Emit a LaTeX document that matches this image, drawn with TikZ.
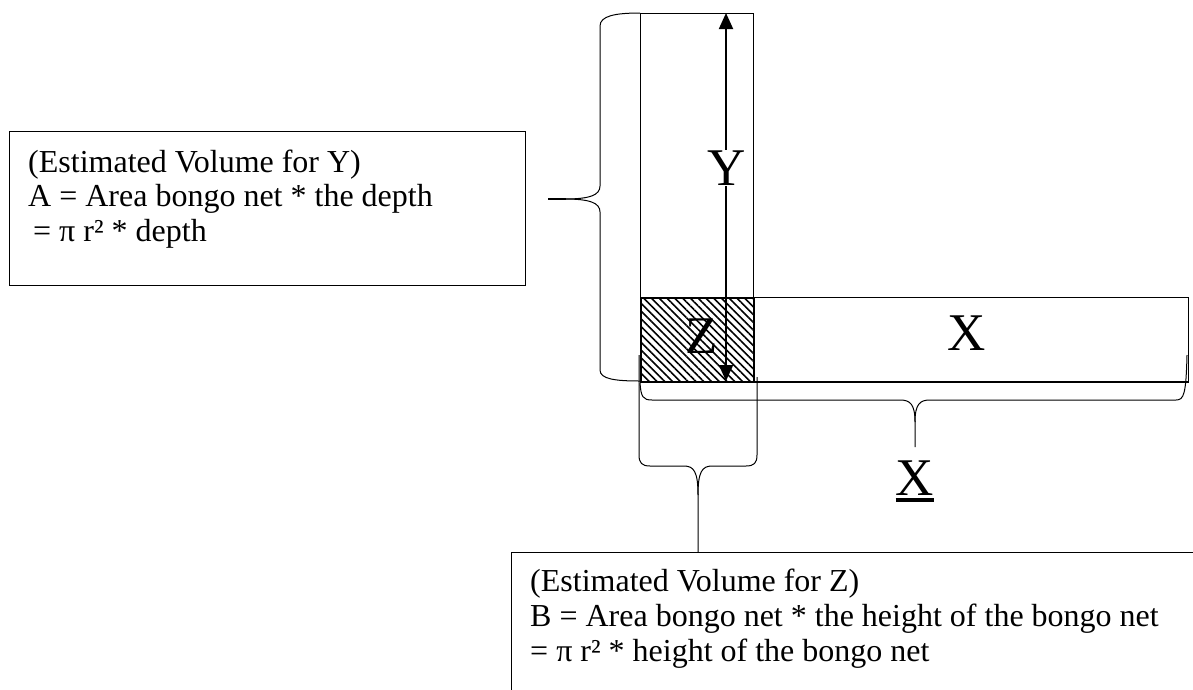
\documentclass[tikz,border=0pt]{standalone}
\usepackage{fontspec}
\setmainfont{Liberation Serif}
\usetikzlibrary{arrows.meta,patterns.meta}
\begin{document}
\begin{tikzpicture}[x=1pt,y=-1pt,
  shapebox/.style={draw,line width=1.4pt,anchor=north west,inner sep=0pt},
  brace/.style={draw,line width=1pt},
  txt/.style={anchor=base west,inner sep=0pt,font=\fontsize{32}{35}\selectfont},
  big/.style={inner sep=0pt,font=\fontsize{53}{60}\selectfont},
  tbox/.style={draw,line width=1.2pt,anchor=north west,inner sep=0pt},
  dblarrow/.style={line width=1.9pt,{Triangle[length=16pt,width=14pt]}-{Triangle[length=16pt,width=14pt]}}]
\useasboundingbox (0,0) rectangle (1193,689);
\begin{scope}
\clip (0,0) rectangle (1193,689);
% text boxes
\node[tbox,minimum width=516pt,minimum height=154pt] (boxY) at (9,131) {};
\node[tbox,minimum width=800pt,minimum height=200pt] (boxZ) at (511,552) {};
\node[txt] (ty1) at (28,172) {(Estimated Volume for Y)};
\node[txt] (ty2) at (28,206) {A = Area bongo net * the depth};
\node[txt] (ty3) at (33,241) {= π r² * depth};
\node[txt] (tz1) at (530,591) {(Estimated Volume for Z)};
\node[txt] (tz2) at (530,626) {B = Area bongo net * the height of the bongo net};
\node[txt] (tz3) at (530,661) {= π r² * height of the bongo net};
% shapes
\node[shapebox,pattern={Lines[angle=-45,distance=5.5pt,line width=1.6pt]},minimum width=113pt,minimum height=84pt] (zr) at (640,297) {};
\node[shapebox,minimum width=113pt,minimum height=368pt] (col) at (640,13) {};
\node[shapebox,minimum width=548pt,minimum height=84pt] (xr) at (640,297) {};
\draw[line width=2pt] (xr.south west) -- (xr.south east);
% arrow
\coordinate (atop) at (726,13);
\coordinate (abot) at (726,381);
\draw[dblarrow] (abot) -- (atop);
% labels
\node[big,fill=white,inner sep=1pt] (ylab) at (727,168) {Y};
\node[big] (zlab) at (702,336) {Z};
\node[big] (xlab) at (967,333) {X};
\node[big,anchor=base] (xu) at (915,495) {X};
\draw[line width=3.5pt] ([yshift=-5pt]xu.base west) -- ([yshift=-5pt]xu.base east);
% left brace
\draw[brace] (640,13) .. controls (615,13) and (600,16) .. (600,26) -- (600,186)
  .. controls (600,195) and (590,199) .. (565,199) -- (548,199);
\draw[brace] (565,199) .. controls (590,199) and (600,203) .. (600,212) -- (600,370)
  .. controls (600,379) and (615,381) .. (640,381);
\draw[line width=2pt] (548,199) -- (566,199);
% X brace
\draw[brace] (640,383) .. controls (641,397) and (643,400) .. (652,400) -- (900,400)
  .. controls (910,400) and (915,404) .. (915,422) -- (915,447);
\draw[brace] (915,422) .. controls (915,404) and (920,400) .. (930,400) -- (1176,400)
  .. controls (1184,400) and (1186,394) .. (1187,355);
% Z brace
\draw[brace] (639,355) -- (639,455) .. controls (639,463) and (642,466) .. (650,466) -- (684,466)
  .. controls (694,466) and (698,472) .. (698,495) -- (698,552);
\draw[brace] (698,495) .. controls (698,472) and (702,466) .. (712,466) -- (746,466)
  .. controls (754,466) and (757,463) .. (757,455) -- (757,377);
\end{scope}
\end{tikzpicture}
\end{document}
